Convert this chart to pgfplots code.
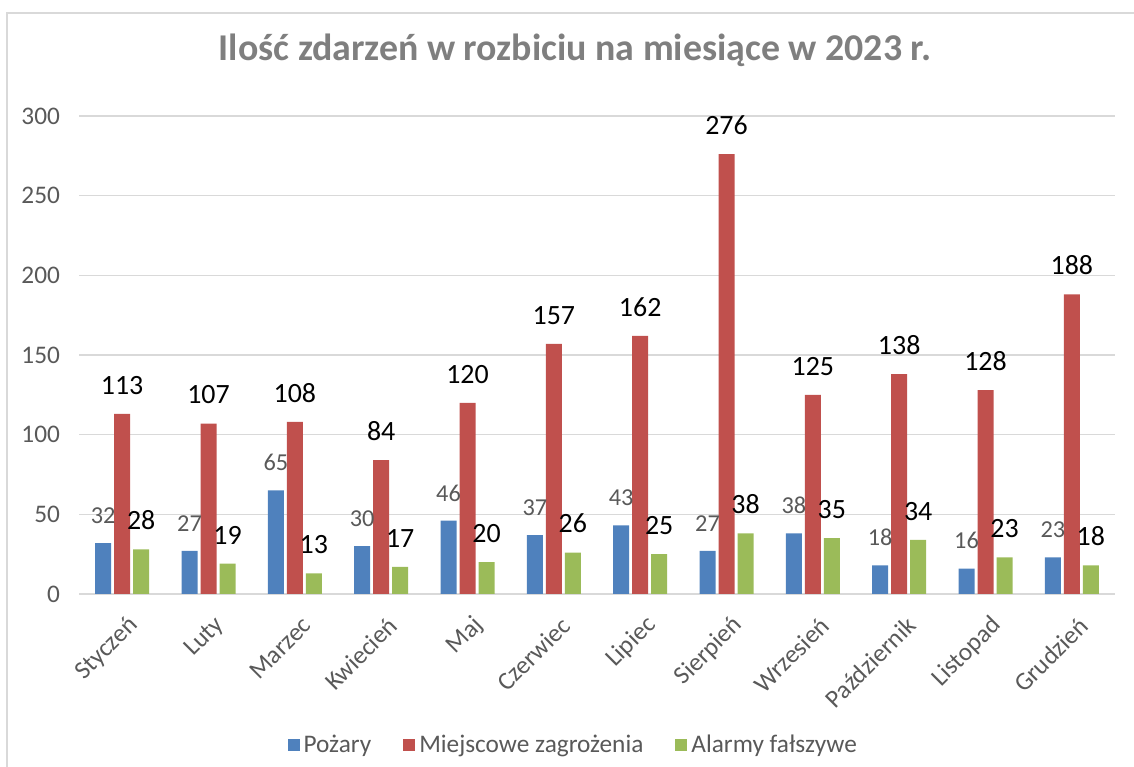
\documentclass[border=0pt]{standalone}
\usepackage{pgfplots}
\pgfplotsset{compat=1.18}
\usepackage{fontspec}
\setmainfont{Carlito}
\definecolor{cblue}{HTML}{4F81BD}
\definecolor{cred}{HTML}{C0504D}
\definecolor{cgreen}{HTML}{9BBB59}
\definecolor{cgrid}{HTML}{D9D9D9}
\definecolor{ctxt}{HTML}{595959}
\definecolor{ctitle}{HTML}{7F7F7F}
\begin{document}
\begin{tikzpicture}
\useasboundingbox (0,0) rectangle (567bp,383.5bp);
\draw[cgrid, line width=0.8bp] (3.5bp,0) -- (3.5bp,377bp) -- (567bp,377bp);
\node[font=\fontsize{19}{23}\selectfont\bfseries, text=ctitle] at (287.5bp,358.5bp) {Ilość zdarzeń w rozbiciu na miesiące w 2023 r.};
\begin{axis}[
  at={(39.5bp,86.5bp)}, anchor=south west,
  scale only axis, width=518bp, height=239bp,
  xmin=-0.5, xmax=11.5, ymin=0, ymax=300,
  ybar=1.5bp, bar width=8bp,
  xtick={0,...,11},
  xticklabels={Styczeń,Luty,Marzec,Kwiecień,Maj,Czerwiec,Lipiec,Sierpień,Wrzesień,Październik,Listopad,Grudzień},
  ytick={0,50,...,300},
  ymajorgrids, grid style={cgrid, line width=0.6bp},
  extra y ticks={0}, extra y tick labels={}, extra y tick style={grid style={cgrid,line width=1.2bp}},
  axis line style={draw=none},
  major tick length=0,
  tick style={draw=none},
  /pgf/number format/assume math mode=true,
  yticklabel style={font=\fontsize{12.7}{15}\selectfont, text=ctxt, xshift=-6bp},
  xticklabel style={font=\fontsize{12.7}{15}\selectfont, text=ctxt, rotate=45, anchor=east, xshift=-2bp, yshift=-14bp},
  legend style={at={(0.478,-0.316)}, anchor=center, legend columns=3, draw=none, fill=none,
    font=\fontsize{12.7}{15}\selectfont, text=ctxt,
    /tikz/every even column/.append style={column sep=14bp}},
  legend image code/.code={\fill[#1] (0bp,-3bp) rectangle (6bp,3bp);},
  nodes near coords,
  every node near coord/.append style={inner sep=0pt, anchor=south, yshift=9.5bp},
]
\addplot[fill=cblue, draw=none, every node near coord/.append style={font=\fontsize{12.2}{14}\selectfont, text=ctxt}] coordinates {
(0,32) (1,27) (2,65) (3,30) (4,46) (5,37) (6,43) (7,27) (8,38) (9,18) (10,16) (11,23)};
\addplot[fill=cred, draw=none, every node near coord/.append style={font=\fontsize{14}{16}\selectfont, text=black}] coordinates {
(0,113) (1,107) (2,108) (3,84) (4,120) (5,157) (6,162) (7,276) (8,125) (9,138) (10,128) (11,188)};
\addplot[fill=cgreen, draw=none, every node near coord/.append style={font=\fontsize{14}{16}\selectfont, text=black}] coordinates {
(0,28) (1,19) (2,13) (3,17) (4,20) (5,26) (6,25) (7,38) (8,35) (9,34) (10,23) (11,18)};
\legend{Pożary, Miejscowe zagrożenia, Alarmy fałszywe}
\end{axis}
\end{tikzpicture}
\end{document}
